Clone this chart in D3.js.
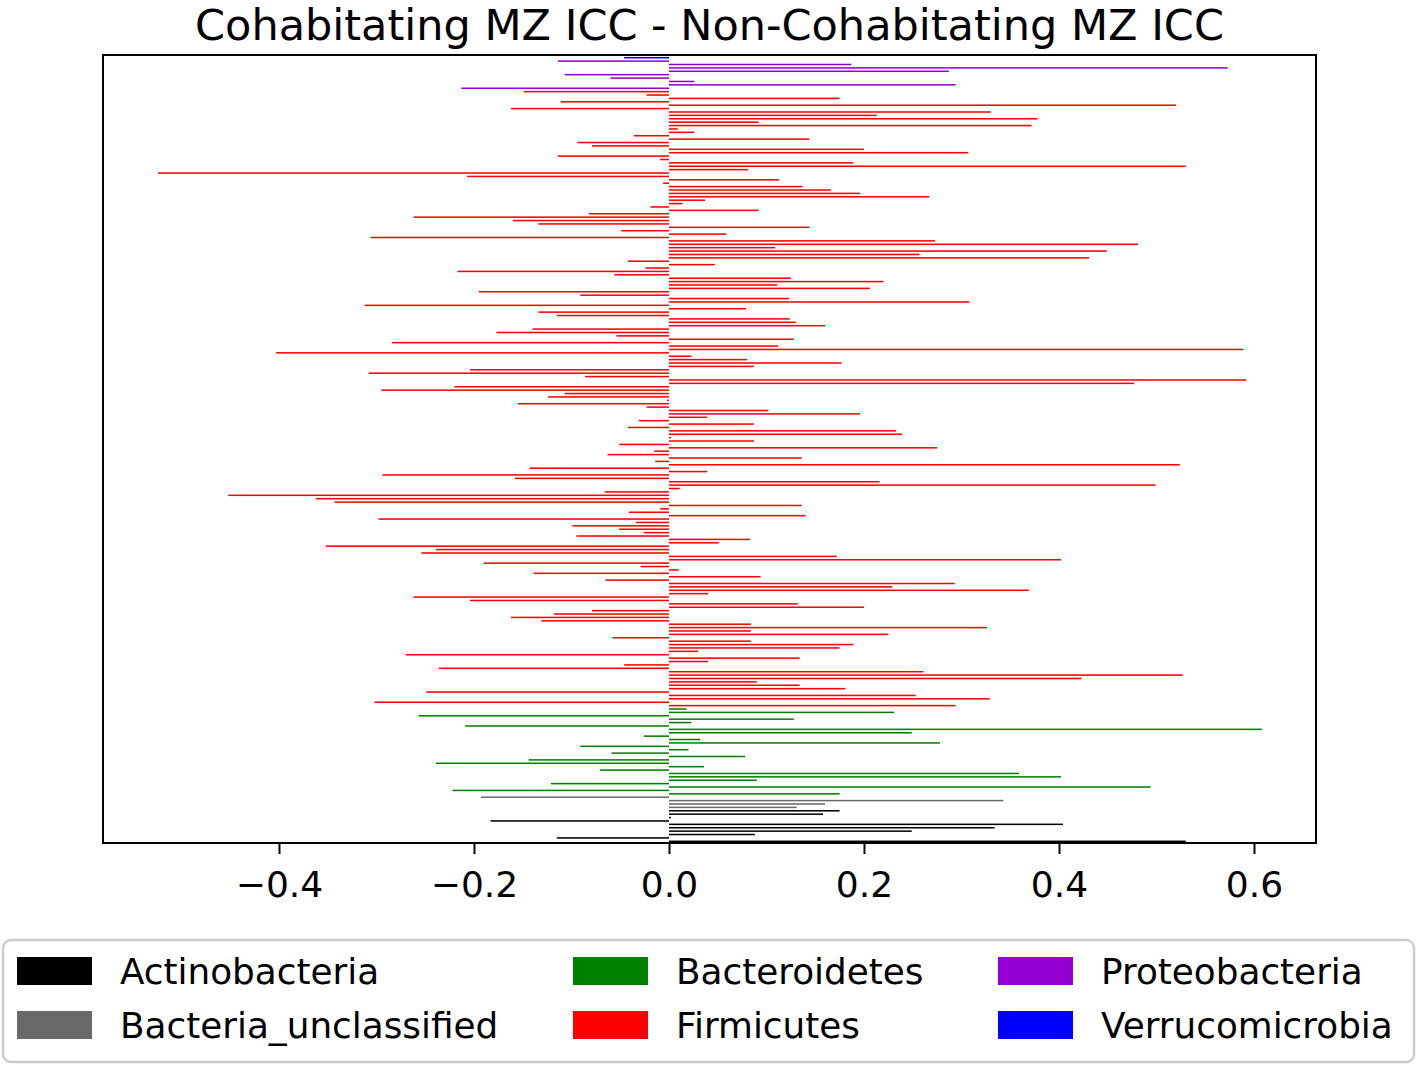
<!DOCTYPE html>
<html>
<head>
<meta charset="utf-8">
<script src="https://cdn.jsdelivr.net/npm/d3@7"></script>
<style>
  html, body { margin: 0; padding: 0; background: #ffffff; }
  svg { display: block; font-family: "DejaVu Sans", sans-serif; }
</style>
</head>
<body>
<svg id="chart" width="1418" height="1065"></svg>
<script>
// ---------- DATA (top of chart to bottom) ----------
const titleText = "Cohabitating MZ ICC - Non-Cohabitating MZ ICC";
const legendOrder = ["Actinobacteria", "Bacteria_unclassified", "Bacteroidetes", "Firmicutes", "Proteobacteria", "Verrucomicrobia"];
const plotOrder = ["Verrucomicrobia", "Proteobacteria", "Firmicutes", "Bacteroidetes", "Bacteria_unclassified", "Actinobacteria"];
const phylumColors = ["#000000", "#696969", "#008000", "#ff0000", "#9400d3", "#0000ff"];
const tickValues = [-0.4, -0.2, 0.0, 0.2, 0.4, 0.6];

const verrucomicrobia = [-0.046];
const proteobacteria = [-0.114, 0.187, 0.573, 0.287, -0.107, -0.060, 0.026, 0.294, -0.213];
const firmicutes = [
  -0.149, -0.023, 0.175, -0.111, 0.520, -0.162, 0.330, 0.213, 0.378, 0.092,
  0.372, 0.009, 0.026, -0.036, 0.144, -0.094, -0.079, 0.200, 0.307, -0.114,
  -0.009, 0.189, 0.530, 0.081, -0.524, -0.207, 0.113, -0.006, 0.137, 0.166,
  0.196, 0.267, 0.037, 0.014, -0.019, 0.092, -0.082, -0.262, -0.160, -0.134,
  0.144, -0.049, 0.059, -0.306, 0.273, 0.481, 0.109, 0.449, 0.257, 0.431,
  -0.042, 0.047, -0.024, -0.217, -0.056, 0.125, 0.220, 0.111, 0.206, -0.195,
  -0.091, 0.123, 0.308, -0.312, 0.079, -0.134, -0.115, 0.124, 0.130, 0.160,
  -0.140, -0.177, -0.054, 0.128, -0.284, 0.112, 0.589, -0.403, 0.023, 0.080,
  0.177, 0.087, -0.204, -0.308, -0.086, 0.592, 0.477, -0.220, -0.295, -0.107,
  -0.124, -0.002, -0.155, -0.023, 0.102, 0.196, 0.039, -0.031, 0.087, -0.042,
  0.233, 0.239, 0.002, 0.087, -0.051, 0.275, -0.015, -0.063, 0.136, -0.014,
  0.524, -0.143, 0.039, -0.294, -0.158, 0.216, 0.499, 0.011, -0.066, -0.452,
  -0.362, -0.343, 0.136, -0.009, -0.041, 0.140, -0.298, -0.034, -0.099, -0.051,
  -0.026, -0.095, 0.083, 0.051, -0.352, -0.239, -0.254, 0.172, 0.402, -0.190,
  -0.029, 0.010, -0.139, 0.094, -0.065, 0.293, 0.229, 0.369, 0.040, -0.262,
  -0.204, 0.132, 0.200, -0.079, -0.118, -0.162, -0.131, 0.084, 0.326, 0.084,
  0.225, -0.058, 0.084, 0.189, 0.175, 0.030, -0.270, 0.134, 0.040, -0.046,
  -0.236, 0.261, 0.527, 0.423, 0.090, 0.134, 0.181, -0.249, 0.253, 0.329,
  -0.302, 0.294
];
const bacteroidetes = [
  0.018, 0.231, -0.257, 0.128, 0.023, -0.209, 0.608, 0.249, -0.026, 0.032,
  0.278, -0.091, 0.020, -0.059, 0.078, -0.144, -0.239, 0.036, -0.071, 0.359,
  0.402, 0.090, -0.121, 0.494, -0.222, 0.175
];
const bacteriaUnclassified = [-0.193, 0.343, 0.160, 0.131];
const actinobacteria = [0.175, 0.158, 0.002, -0.183, 0.404, 0.334, 0.249, 0.088, -0.115, 0.530];

// ---------- BUILD ----------
const seriesByPhylum = {
  "Verrucomicrobia": verrucomicrobia,
  "Proteobacteria": proteobacteria,
  "Firmicutes": firmicutes,
  "Bacteroidetes": bacteroidetes,
  "Bacteria_unclassified": bacteriaUnclassified,
  "Actinobacteria": actinobacteria
};
const bars = [];
plotOrder.forEach(p => seriesByPhylum[p].forEach(v => bars.push({ phylum: p, value: v })));
bars.forEach((b, i) => b.index = i);
const N = bars.length;

const color = d3.scaleOrdinal().domain(legendOrder).range(phylumColors);

const svg = d3.select("#chart");
const plot = { left: 103, right: 1316, top: 55, bottom: 843 };

const x = d3.scaleLinear().domain([-0.5805, 0.6636]).range([plot.left, plot.right]);
const y = d3.scaleLinear().domain([-0.8, N - 0.5]).range([plot.top, plot.bottom]);
const barH = 0.45;

// title
svg.append("text")
  .attr("x", (plot.left + plot.right) / 2)
  .attr("y", 40)
  .attr("text-anchor", "middle")
  .attr("font-size", 43)
  .attr("fill", "#000")
  .text(titleText);

// bars
svg.append("g")
  .selectAll("rect")
  .data(bars)
  .join("rect")
  .attr("x", d => Math.min(x(0), x(d.value)))
  .attr("width", d => Math.abs(x(d.value) - x(0)))
  .attr("y", d => y(d.index - barH / 2))
  .attr("height", d => y(d.index + barH / 2) - y(d.index - barH / 2))
  .attr("fill", d => color(d.phylum));

// frame
svg.append("rect")
  .attr("x", plot.left).attr("y", plot.top)
  .attr("width", plot.right - plot.left).attr("height", plot.bottom - plot.top)
  .attr("fill", "none").attr("stroke", "#000").attr("stroke-width", 2);

// x axis
const xAxis = svg.append("g")
  .attr("transform", `translate(0,${plot.bottom})`)
  .call(d3.axisBottom(x).tickValues(tickValues).tickFormat(d3.format(".1f")).tickSize(11).tickPadding(17));
xAxis.select(".domain").remove();
xAxis.selectAll(".tick line").attr("stroke", "#000").attr("stroke-width", 2);
xAxis.selectAll(".tick text").attr("font-size", 36).attr("fill", "#000")
  .attr("font-family", "DejaVu Sans, sans-serif");

// legend
const legend = svg.append("g");
legend.append("rect")
  .attr("x", 3).attr("y", 940).attr("width", 1411).attr("height", 122)
  .attr("rx", 8).attr("ry", 8)
  .attr("fill", "#fff").attr("stroke", "#cccccc").attr("stroke-width", 2.5);

const colX = [17, 573, 998];
const rowY = [971, 1025];
legendOrder.forEach((name, i) => {
  const col = Math.floor(i / 2), row = i % 2;
  const g = legend.append("g").attr("transform", `translate(${colX[col]},${rowY[row]})`);
  g.append("rect").attr("x", 0).attr("y", -14).attr("width", 75).attr("height", 28)
    .attr("fill", color(name));
  g.append("text").attr("x", 103).attr("y", 13)
    .attr("font-size", 35.8).attr("fill", "#000").text(name);
});
</script>
</body>
</html>
